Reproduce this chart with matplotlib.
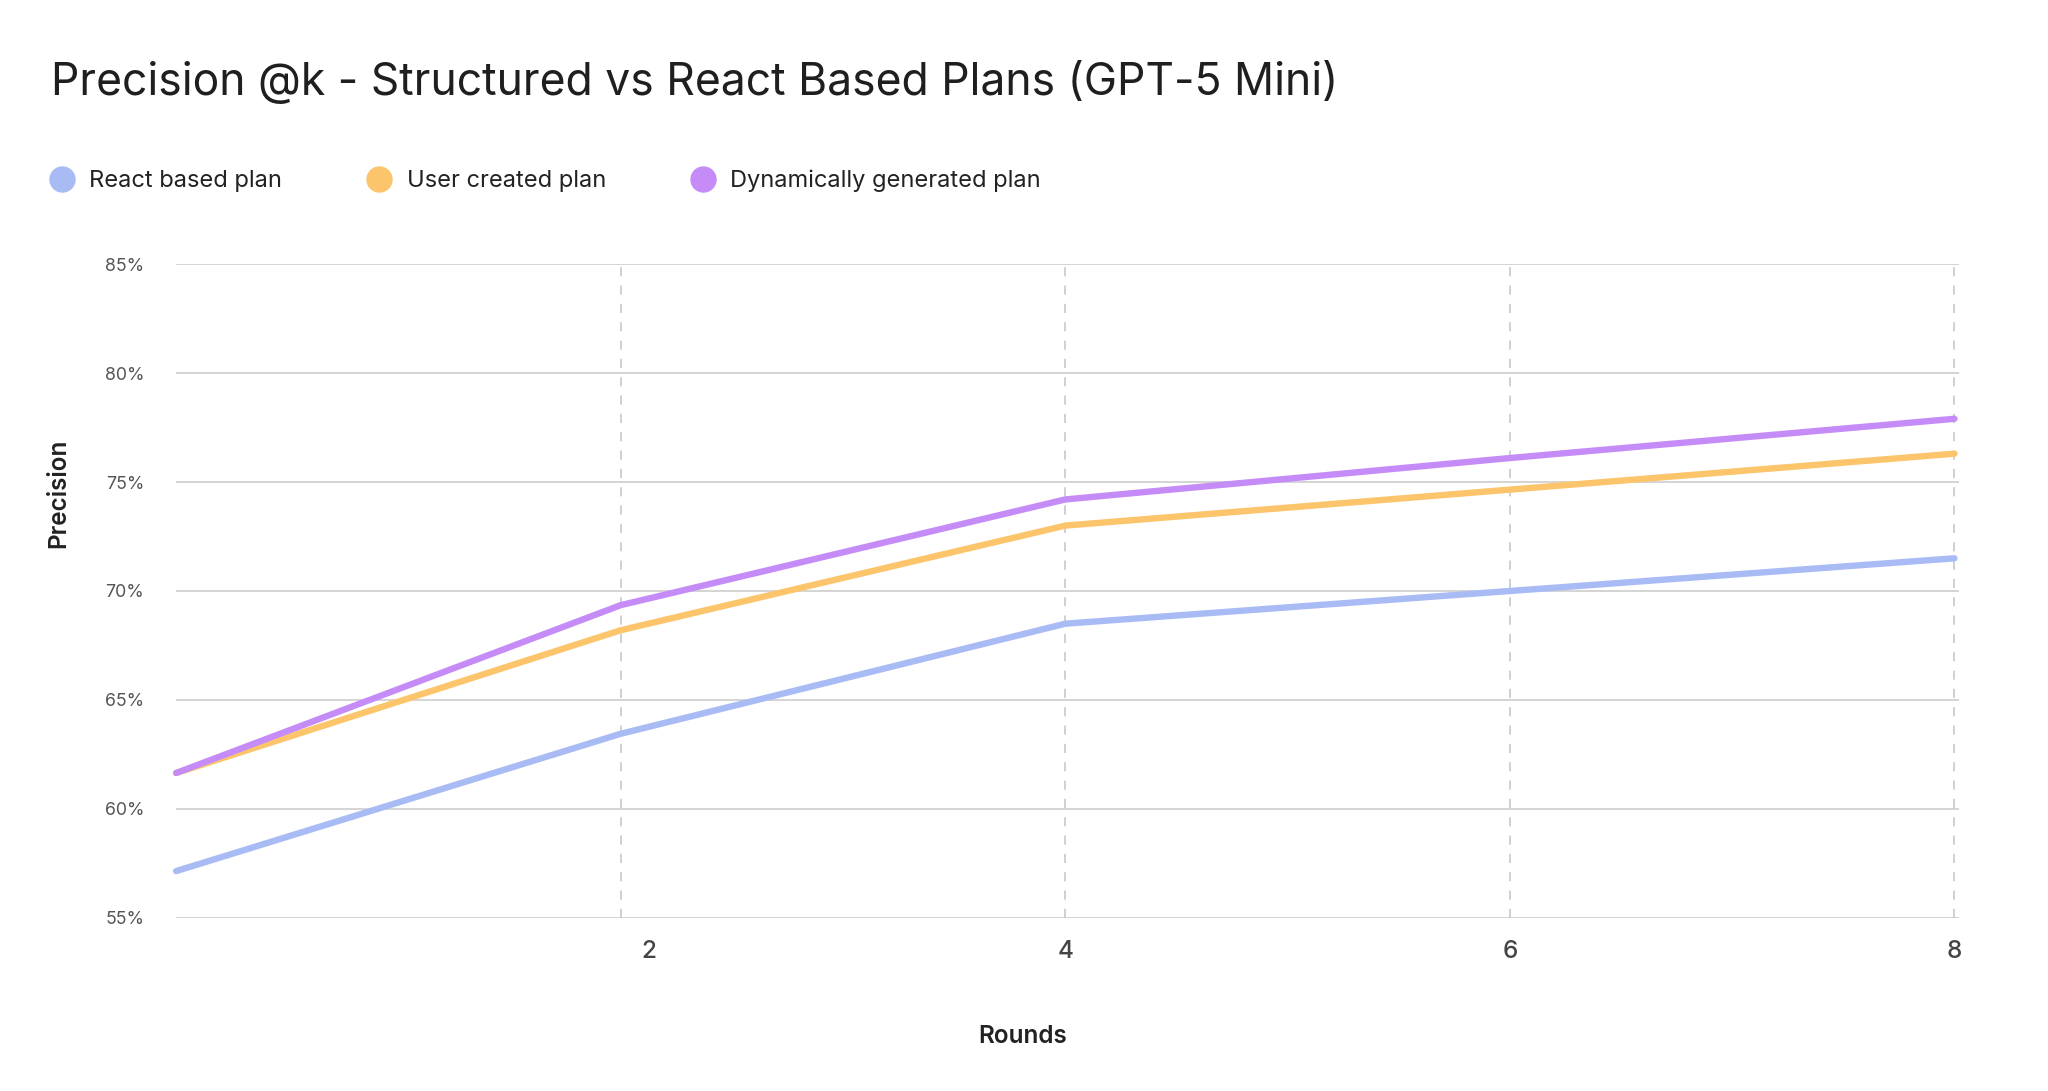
import numpy as np
import matplotlib.pyplot as plt
from matplotlib.lines import Line2D

plt.rcParams['font.family'] = ['Inter', 'DejaVu Sans']

# data
rounds = ['1', '2', '4', '6', '8']
react_plan = [57.15, 63.45, 68.5, 70.0, 71.5]
user_plan = [61.65, 68.2, 73.0, 74.65, 76.3]
dynamic_plan = [61.65, 69.35, 74.2, 76.1, 77.9]

series_names = ['React based plan', 'User created plan', 'Dynamically generated plan']
colors = ['#a9bbf4', '#fcc56c', '#c58cf8']

y_ticks = [55, 60, 65, 70, 75, 80, 85]

fig = plt.figure(figsize=(20.48, 10.91), dpi=100)
ax = fig.add_axes([0.086, 0.1586, 0.8705, 0.5994])

x = np.arange(len(rounds))

# lines
for vals, c in zip([react_plan, user_plan, dynamic_plan], colors):
    ax.plot(x, vals, color=c, lw=4.6, solid_capstyle='round',
            solid_joinstyle='round', zorder=3, clip_on=False)

ax.set_xlim(0, x[-1] + 0.01)
ax.set_ylim(55, 85)

# horizontal grid
ax.set_yticks(y_ticks)
ax.set_yticklabels([f'{v}%' for v in y_ticks], fontsize=12.8, color='#555555')
for v in y_ticks:
    ax.axhline(v, color='#c9c9c9', lw=1.1, zorder=1)

# vertical dashed lines at each labelled round
for xi in x[1:]:
    ax.axvline(xi, color='#c4c4c4', lw=1.1, ls=(0, (6, 6)), zorder=1)

# the "2" label sits a little right of its gridline in the original
tick_pos = x[1:].astype(float)
tick_pos[0] += 0.064
ax.set_xticks(tick_pos)
ax.set_xticklabels(rounds[1:], fontsize=17.5, color='#444444', fontweight='medium')

ax.tick_params(axis='both', length=0)
ax.tick_params(axis='x', pad=16)
ax.tick_params(axis='y', pad=23)
for s in ax.spines.values():
    s.set_visible(False)

ax.set_xlabel('Rounds', fontsize=17.5, fontweight='semibold', color='#222222')
ax.xaxis.set_label_coords(0.4747, -0.163)
ax.set_ylabel('Precision', fontsize=17.5, fontweight='semibold', color='#222222')
ax.yaxis.set_label_coords(-0.0595, 0.649)

fig.text(0.025, 0.925, 'Precision @k - Structured vs React Based Plans (GPT-5 Mini)',
         fontsize=32, color='#1f1f1f', va='center', ha='left')

handles = [Line2D([], [], ls='none', marker='o', markersize=18, color=c) for c in colors]
fig.legend(handles, series_names, loc='center left', bbox_to_anchor=(0.014, 0.834),
           ncol=3, frameon=False, fontsize=17, handletextpad=0.67, columnspacing=3.6,
           handlelength=1.0, labelcolor='#222222')

fig.savefig('out.png', dpi=100, facecolor='white')
